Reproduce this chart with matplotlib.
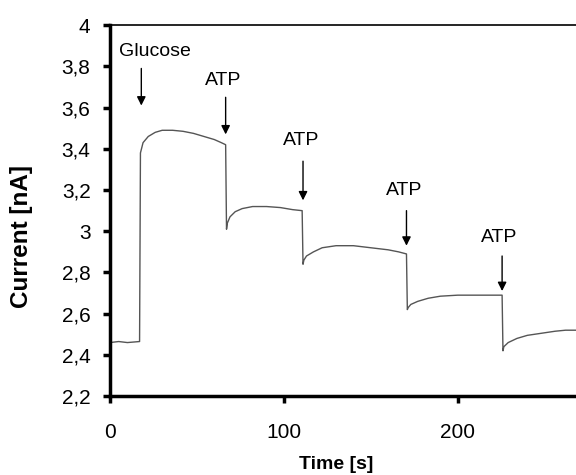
import matplotlib
matplotlib.use("Agg")
import matplotlib.pyplot as plt
from matplotlib.ticker import FuncFormatter

plt.rcParams['font.family'] = ['Liberation Sans', 'DejaVu Sans']

# current trace (vertical steps = repeated times)
time_s = [0, 5, 10, 17, 17.5, 19, 22, 26, 30, 36, 42, 48, 54, 60, 64, 66.5,
          67, 67.5, 69, 72, 76, 82, 90, 98, 105, 110.5,
          111, 111.5, 113, 117, 122, 130, 140, 150, 160, 166, 170.5,
          171, 171.5, 173, 177, 183, 190, 200, 210, 220, 225.5,
          226, 226.5, 229, 234, 240, 248, 256, 262, 268]
current_na = [2.46, 2.465, 2.46, 2.465, 3.38, 3.43, 3.46, 3.48, 3.49, 3.49, 3.485, 3.475, 3.46, 3.445, 3.43, 3.42,
              3.01, 3.04, 3.07, 3.095, 3.11, 3.12, 3.12, 3.115, 3.105, 3.10,
              2.84, 2.86, 2.88, 2.90, 2.92, 2.93, 2.93, 2.92, 2.91, 2.90, 2.89,
              2.62, 2.63, 2.645, 2.66, 2.675, 2.685, 2.69, 2.69, 2.69, 2.69,
              2.42, 2.44, 2.46, 2.48, 2.495, 2.505, 2.515, 2.52, 2.52]

# injection markers: label, time, label x, text y, arrow top, arrow tip
labels = ["Glucose", "ATP", "ATP", "ATP", "ATP"]
inject_t = [18, 66.5, 111, 170.5, 225.5]
label_t = [26, 65, 110, 169, 224]
text_y = [3.87, 3.73, 3.44, 3.20, 2.97]
arrow_top = [3.79, 3.65, 3.34, 3.10, 2.88]
arrow_tip = [3.61, 3.47, 3.15, 2.93, 2.71]

fig, ax = plt.subplots(figsize=(5.76, 4.75), dpi=100)
fig.subplots_adjust(left=0.191, right=1.0, top=0.947, bottom=0.166)

ax.plot(time_s, current_na, color="#555555", lw=1.0)

for lab, t, lt, ty, a0, a1 in zip(labels, inject_t, label_t, text_y, arrow_top, arrow_tip):
    ax.text(lt, ty, lab, ha="center", va="center", fontsize=14)
    ax.annotate("", xy=(t, a1), xytext=(t, a0),
                arrowprops=dict(arrowstyle="-|>", color="black", lw=1.0,
                                mutation_scale=13, shrinkA=0, shrinkB=0))

ax.set_xlim(0, 268)
ax.set_ylim(2.2, 4.0)
ax.set_xticks([0, 100, 200])
ax.set_yticks([2.2, 2.4, 2.6, 2.8, 3.0, 3.2, 3.4, 3.6, 3.8, 4.0])
ax.yaxis.set_major_formatter(FuncFormatter(
    lambda v, p: ("%g" % round(v, 1)).replace(".", ",")))

ax.spines["right"].set_visible(False)
ax.spines["left"].set_linewidth(2.5)
ax.spines["bottom"].set_linewidth(2.5)
ax.spines["top"].set_linewidth(1.2)
ax.tick_params(axis="both", direction="out", length=5, width=2.5, labelsize=15)
ax.tick_params(axis="x", pad=14)
ax.tick_params(axis="y", pad=9)

ax.set_xlabel("Time [s]", fontsize=14, fontweight="bold")
ax.set_ylabel("Current [nA]", fontsize=17.5, fontweight="bold")
ax.xaxis.set_label_coords(0.485, -0.162)
ax.yaxis.set_label_coords(-0.165, 0.43)

fig.savefig("out.png")
